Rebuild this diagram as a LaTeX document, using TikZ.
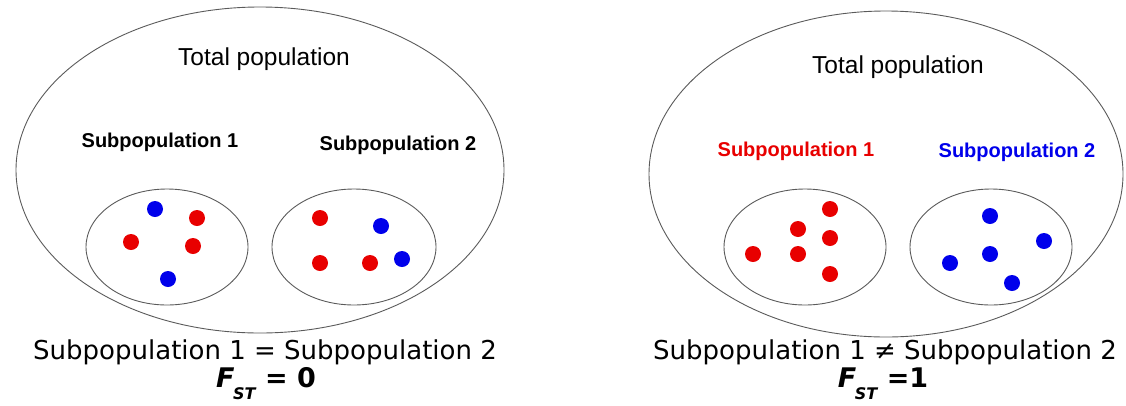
\documentclass[tikz,border=0pt]{standalone}
\usepackage{fontspec}
\setmainfont{Liberation Sans}
\newfontfamily\dejavu{DejaVu Sans}
\usetikzlibrary{shapes.geometric}
\definecolor{dotred}{RGB}{232,0,0}
\definecolor{dotblue}{RGB}{0,0,235}
\definecolor{linegray}{RGB}{90,90,90}
\tikzset{
  x=1pt, y=-1pt,
  outline/.style={draw=linegray, line width=0.9pt},
  totallabel/.style={font=\fontsize{24.5}{26}\selectfont, inner sep=0pt},
  sublabel/.style={font=\fontsize{20}{22}\selectfont\bfseries, inner sep=0pt},
  bottomlabel/.style={font=\dejavu\fontsize{26}{28}\selectfont, inner sep=0pt},
  fstlabel/.style={font=\dejavu\fontsize{27}{29}\selectfont\bfseries, inner sep=0pt},
  rdot/.style={circle, fill=dotred, minimum size=16pt, inner sep=0pt},
  bdot/.style={circle, fill=dotblue, minimum size=16pt, inner sep=0pt},
}
\newcommand{\fstsym}{{\itshape F}\kern-0.05em\raisebox{-0.45em}{\fontsize{16}{16}\selectfont\itshape ST}}
\begin{document}
\begin{tikzpicture}
\useasboundingbox (0,0) rectangle (1126,405);
% ---------- left panel ----------
\draw[outline] (260,170) ellipse [x radius=244, y radius=163];
\node[totallabel] (totL) at (264,59) {Total population};
\node[sublabel] (s1L) at (160,142) {Subpopulation 1};
\node[sublabel] (s2L) at (398,145) {Subpopulation 2};
\draw[outline] (167,247) ellipse [x radius=81, y radius=58];
\draw[outline] (354,247) ellipse [x radius=82, y radius=58];
\node[bdot] (l1) at (155,209) {};
\node[rdot] (l2) at (197,218) {};
\node[rdot] (l3) at (131,242) {};
\node[rdot] (l4) at (193,246) {};
\node[bdot] (l5) at (168,279) {};
\node[rdot] (m1) at (320,218) {};
\node[bdot] (m2) at (381,226) {};
\node[rdot] (m3) at (320,263) {};
\node[rdot] (m4) at (370,263) {};
\node[bdot] (m5) at (402,259) {};
\node[bottomlabel] (eqL) at (265,352) {Subpopulation 1 = Subpopulation 2};
\node[fstlabel] (fstL) at (266,384) {\fstsym{} = 0};
% ---------- right panel ----------
\draw[outline] (886,174) ellipse [x radius=237, y radius=163];
\node[totallabel] (totR) at (898,67) {Total population};
\node[sublabel, text=dotred] (s1R) at (796,151) {Subpopulation 1};
\node[sublabel, text=dotblue] (s2R) at (1017,152) {Subpopulation 2};
\draw[outline] (805,247) ellipse [x radius=81, y radius=58];
\draw[outline] (991,247) ellipse [x radius=81, y radius=58];
\node[rdot] (r1) at (753,254) {};
\node[rdot] (r2) at (798,229) {};
\node[rdot] (r3) at (798,254) {};
\node[rdot] (r4) at (830,209) {};
\node[rdot] (r5) at (830,238) {};
\node[rdot] (r6) at (830,274) {};
\node[bdot] (b1) at (990,216) {};
\node[bdot] (b2) at (1044,241) {};
\node[bdot] (b3) at (990,254) {};
\node[bdot] (b4) at (950,263) {};
\node[bdot] (b5) at (1012,283) {};
\node[bottomlabel] (eqR) at (885,352) {Subpopulation 1 ≠ Subpopulation 2};
\node[fstlabel] (fstR) at (883,384) {\fstsym{} =1};
\end{tikzpicture}
\end{document}
